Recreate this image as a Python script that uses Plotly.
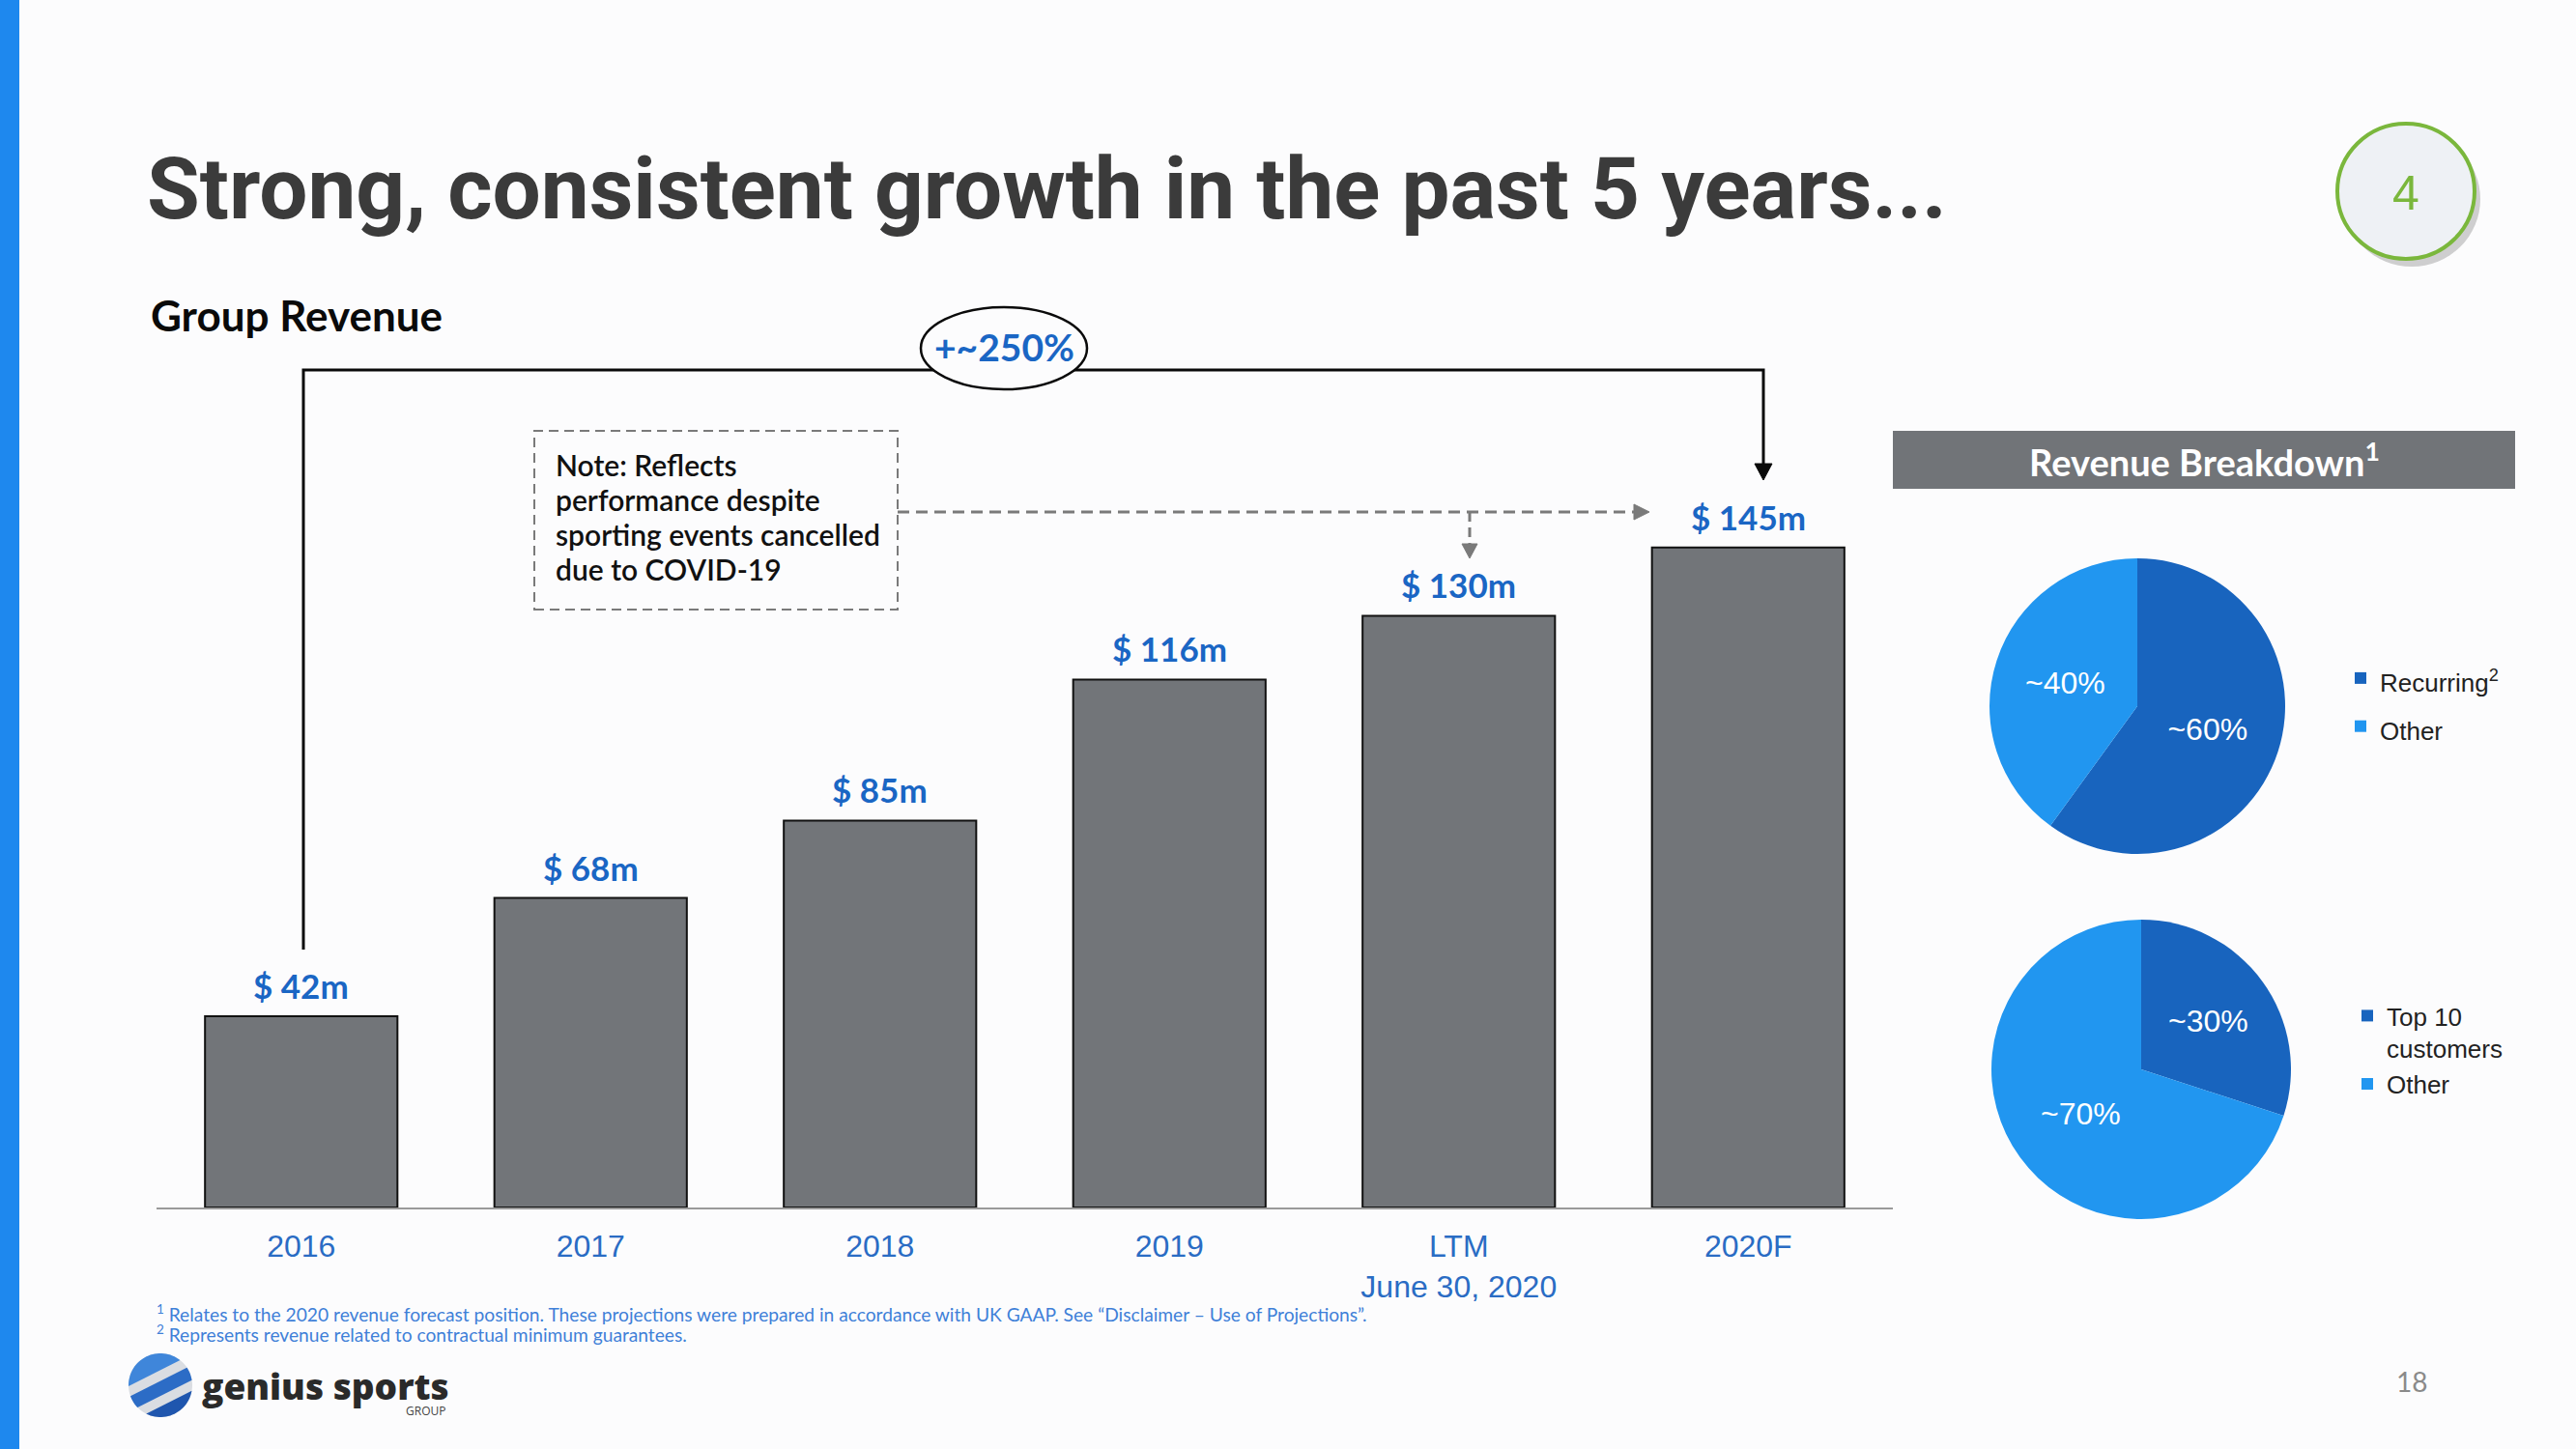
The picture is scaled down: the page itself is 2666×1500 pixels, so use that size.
import numpy as np
import plotly.graph_objects as go

# ---------------- data ----------------
categories = ["2016", "2017", "2018", "2019", "LTM<br>June 30, 2020", "2020F"]
revenue = [42, 68, 85, 116, 130, 145]
revenue_labels = ["$ 42m", "$ 68m", "$ 85m", "$ 116m", "$ 130m", "$ 145m"]

recurring_labels = ["Recurring<sup>2</sup>", "Other"]
recurring_values = [60, 40]
recurring_text = ["~60%", "~40%"]

customer_labels = ["Top 10<br>customers", "Other"]
customer_values = [30, 70]
customer_text = ["~30%", "~70%"]

title_text = "Strong, consistent growth in the past 5 years..."
subtitle_text = "Group Revenue"
growth_text = "+~250%"
note_lines = ["Note: Reflects", "performance despite", "sporting events cancelled", "due to COVID-19"]
panel_title = "Revenue Breakdown<sup>1</sup>"
footnote_1 = ("<sup>1</sup> Relates to the 2020 revenue forecast position. These projections were "
              "prepared in accordance with UK GAAP. See \u201cDisclaimer \u2013 Use of Projections\u201d.")
footnote_2 = "<sup>2</sup> Represents revenue related to contractual minimum guarantees."
page_number = "18"
section_number = "4"

# ---------------- styling ----------------
W, H = 2666, 1500
BG = "#FCFCFD"
BAR = "#727579"
BLUE_TXT = "#1A66C4"
TICK_BLUE = "#2A6CC4"
DARK_BLUE = "#1864BE"
LIGHT_BLUE = "#2196F0"
GREEN = "#7AB73C"
LATO = "Lato, 'Open Sans', sans-serif"
ARIAL = "'Liberation Sans', Arial, sans-serif"


def px(x):
    return x / W


def py(y):
    return 1 - y / H


def path(points, close=False):
    s = "M " + " L ".join(f"{px(x):.5f},{py(y):.5f}" for x, y in points)
    return s + (" Z" if close else "")


def small(label, size=26):
    return f'<span style="font-size:{size}px">{label}</span>'


fig = go.Figure()

fig.add_trace(go.Bar(
    x=categories, y=revenue, width=0.665,
    marker=dict(color=BAR, line=dict(color="#111111", width=2)),
    showlegend=False, hoverinfo="skip",
))

fig.add_trace(go.Pie(
    labels=[small(l) for l in recurring_labels], values=recurring_values, text=recurring_text,
    textinfo="text", textposition="inside", insidetextorientation="horizontal",
    sort=False, direction="clockwise", rotation=0,
    marker=dict(colors=[DARK_BLUE, LIGHT_BLUE]),
    textfont=dict(family=ARIAL, size=32, color="white"),
    domain=dict(x=[px(2059), px(2365)], y=[py(884), py(578)]),
    legend="legend", hoverinfo="skip",
))

fig.add_trace(go.Pie(
    labels=customer_labels, values=customer_values, text=customer_text,
    textinfo="text", textposition="inside", insidetextorientation="horizontal",
    sort=False, direction="clockwise", rotation=0,
    marker=dict(colors=[DARK_BLUE, LIGHT_BLUE]),
    textfont=dict(family=ARIAL, size=32, color="white"),
    domain=dict(x=[px(2061), px(2371)], y=[py(1262), py(952)]),
    legend="legend2", hoverinfo="skip",
))

shapes = []
annotations = []

# left accent strip
shapes.append(dict(type="rect", xref="paper", yref="paper", x0=0, x1=px(20), y0=0, y1=1,
                   fillcolor="#1E88EE", line=dict(width=0), layer="below"))

# growth bracket (black)
shapes.append(dict(type="path", xref="paper", yref="paper",
                   path=path([(314, 983), (314, 383), (1825, 383), (1825, 482)]),
                   line=dict(color="#0A0A0A", width=3)))
shapes.append(dict(type="path", xref="paper", yref="paper",
                   path=path([(1816, 480), (1834, 480), (1825, 497)], close=True),
                   fillcolor="#0A0A0A", line=dict(color="#0A0A0A", width=1)))
# ellipse with growth text
shapes.append(dict(type="circle", xref="paper", yref="paper",
                   x0=px(953), x1=px(1125), y0=py(403), y1=py(318),
                   fillcolor=BG, line=dict(color="#0A0A0A", width=2.5)))
annotations.append(dict(x=px(1039), y=py(359), xref="paper", yref="paper", text=growth_text,
                        showarrow=False, xanchor="center", yanchor="middle",
                        font=dict(family=LATO, size=39, color=BLUE_TXT, weight="bold")))

# note box and dashed arrows
GRAY = "#7A7A7A"
shapes.append(dict(type="rect", xref="paper", yref="paper",
                   x0=px(553), x1=px(929), y0=py(631), y1=py(446),
                   line=dict(color=GRAY, width=2, dash="10px,6px"), fillcolor="rgba(0,0,0,0)"))
for k, line in enumerate(note_lines):
    annotations.append(dict(x=px(573), y=py(481 + 36 * k), xref="paper", yref="paper", text=line,
                            showarrow=False, xanchor="left", yanchor="middle", align="left",
                            font=dict(family=LATO, size=30, color="#111111", weight=600)))
shapes.append(dict(type="path", xref="paper", yref="paper",
                   path=path([(929, 530), (1692, 530)]),
                   line=dict(color=GRAY, width=3, dash="12px,7px")))
shapes.append(dict(type="path", xref="paper", yref="paper",
                   path=path([(1691, 522), (1707, 530), (1691, 538)], close=True),
                   fillcolor=GRAY, line=dict(color=GRAY, width=1)))
shapes.append(dict(type="path", xref="paper", yref="paper",
                   path=path([(1521, 530), (1521, 563)]),
                   line=dict(color=GRAY, width=3, dash="10px,6px")))
shapes.append(dict(type="path", xref="paper", yref="paper",
                   path=path([(1513, 563), (1529, 563), (1521, 578)], close=True),
                   fillcolor=GRAY, line=dict(color=GRAY, width=1)))

# value labels above bars (category index positions)
for i, (v, t) in enumerate(zip(revenue, revenue_labels)):
    annotations.append(dict(x=i, y=v, xref="x", yref="y", text=t, showarrow=False,
                            xanchor="center", yanchor="bottom", yshift=9,
                            font=dict(family=LATO, size=35, color=BLUE_TXT, weight="bold")))

# title and subtitle
annotations.append(dict(x=px(150), y=py(195), xref="paper", yref="paper", text=title_text,
                        showarrow=False, xanchor="left", yanchor="middle",
                        font=dict(family="Roboto, 'Liberation Sans', sans-serif",
                                  size=89, color="#3B3B3B", weight="bold")))
annotations.append(dict(x=px(154), y=py(326), xref="paper", yref="paper", text=subtitle_text,
                        showarrow=False, xanchor="left", yanchor="middle",
                        font=dict(family=LATO, size=44, color="#0A0A0A", weight="bold")))

# section circle "4"
shapes.append(dict(type="circle", xref="paper", yref="paper",
                   x0=px(2425), x1=px(2567), y0=py(276), y1=py(136),
                   fillcolor="rgba(120,120,120,0.35)", line=dict(width=0)))
shapes.append(dict(type="circle", xref="paper", yref="paper",
                   x0=px(2419), x1=px(2561), y0=py(268), y1=py(128),
                   fillcolor="#EEF1F5", line=dict(color=GREEN, width=4)))
annotations.append(dict(x=px(2490), y=py(200), xref="paper", yref="paper", text=section_number,
                        showarrow=False, xanchor="center", yanchor="middle",
                        font=dict(family=ARIAL, size=50, color=GREEN)))

# right panel header
shapes.append(dict(type="rect", xref="paper", yref="paper",
                   x0=px(1959), x1=px(2603), y0=py(506), y1=py(446),
                   fillcolor="#717478", line=dict(width=0)))
annotations.append(dict(x=px(2281), y=py(476), xref="paper", yref="paper", text=panel_title,
                        showarrow=False, xanchor="center", yanchor="middle",
                        font=dict(family=LATO, size=38, color="white", weight="bold")))

# footnotes
annotations.append(dict(x=px(160), y=py(1359), xref="paper", yref="paper", text=footnote_1,
                        showarrow=False, xanchor="left", yanchor="middle",
                        font=dict(family=LATO, size=19.2, color="#3F80D8")))
annotations.append(dict(x=px(160), y=py(1380), xref="paper", yref="paper", text=footnote_2,
                        showarrow=False, xanchor="left", yanchor="middle",
                        font=dict(family=LATO, size=19.2, color="#3F80D8")))

# page number
annotations.append(dict(x=px(2496), y=py(1430), xref="paper", yref="paper", text=page_number,
                        showarrow=False, xanchor="center", yanchor="middle",
                        font=dict(family=LATO, size=28, color="#8A8A8A")))

# logo: sphere with blue bands
cx, cy, r = 166, 1434, 33
theta = np.linspace(0, 2 * np.pi, 90, endpoint=False)
circle_pts = [(cx + r * np.cos(t), cy + r * np.sin(t)) for t in theta]


def clip(poly, f):
    out = []
    n = len(poly)
    for i in range(n):
        p, q = poly[i], poly[(i + 1) % n]
        fp, fq = f(p), f(q)
        if fp >= 0:
            out.append(p)
        if (fp >= 0) != (fq >= 0):
            t = fp / (fp - fq)
            out.append((p[0] + t * (q[0] - p[0]), p[1] + t * (q[1] - p[1])))
    return out


nx, ny = 0.45, 0.89


def v(p):
    return ((p[0] - cx) * nx + (p[1] - cy) * ny) / r


shapes.append(dict(type="path", xref="paper", yref="paper", path=path(circle_pts, close=True),
                   fillcolor="#DADDE2", line=dict(width=0)))
for a, b, col in [(-1.1, -0.42, "#3F86DA"), (-0.12, 0.3, "#2C6CC6"), (0.6, 1.1, "#1F56AE")]:
    band = clip(clip(circle_pts, lambda p: v(p) - a), lambda p: b - v(p))
    if band:
        shapes.append(dict(type="path", xref="paper", yref="paper", path=path(band, close=True),
                           fillcolor=col, line=dict(width=0)))
annotations.append(dict(x=px(207), y=py(1434), xref="paper", yref="paper", text="genius sports",
                        showarrow=False, xanchor="left", yanchor="middle",
                        font=dict(family="'Open Sans', sans-serif", size=37, color="#2A2A2A", weight=800)))
annotations.append(dict(x=px(463), y=py(1460), xref="paper", yref="paper", text="GROUP",
                        showarrow=False, xanchor="right", yanchor="middle",
                        font=dict(family="'Open Sans', sans-serif", size=12, color="#444444")))

fig.update_layout(
    width=W, height=H,
    margin=dict(l=0, r=0, t=0, b=0),
    paper_bgcolor=BG, plot_bgcolor="rgba(0,0,0,0)",
    xaxis=dict(domain=[px(162), px(1959)], range=[-0.5, 5.5], type="category",
               showline=True, linecolor="#9A9A9A", linewidth=2, ticks="",
               showgrid=False, zeroline=False, ticklabelstandoff=11,
               tickfont=dict(family=ARIAL, size=32, color=TICK_BLUE), fixedrange=True),
    yaxis=dict(domain=[py(1250), py(350)], range=[0, 191], visible=False, fixedrange=True),
    shapes=shapes,
    annotations=annotations,
    legend=dict(x=px(2423), y=py(672), xanchor="left", yanchor="top",
                font=dict(family=ARIAL, size=36, color="#222222"),
                bgcolor="rgba(0,0,0,0)", valign="middle", itemclick=False,
                itemdoubleclick=False),
    legend2=dict(x=px(2430), y=py(1028), xanchor="left", yanchor="top",
                 font=dict(family=ARIAL, size=26, color="#222222"),
                 bgcolor="rgba(0,0,0,0)", valign="top", itemclick=False,
                 itemdoubleclick=False),
)

fig.write_html("out.html", config={"displayModeBar": False},
               post_script="document.body.style.margin='0';document.body.style.overflow='hidden';")
